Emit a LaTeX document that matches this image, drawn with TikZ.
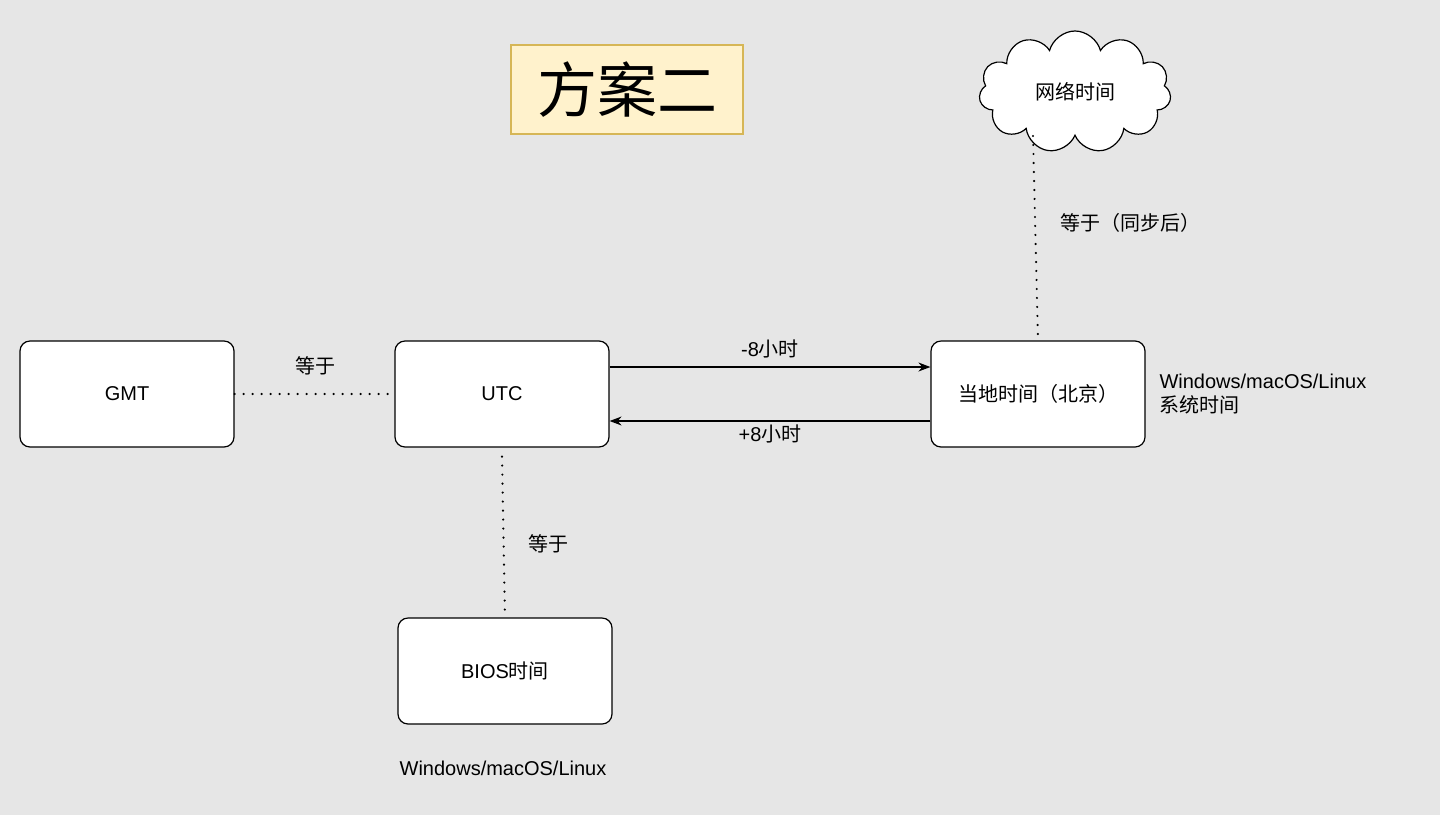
\documentclass[tikz,border=0pt]{standalone}
\usepackage{fontspec}
\setmainfont{Liberation Sans}
\newfontfamily\cjk{Noto Sans CJK SC}
\usetikzlibrary{shapes.symbols,arrows.meta}
\definecolor{bg}{HTML}{E6E6E6}
\definecolor{tfill}{HTML}{FFF2CC}
\definecolor{tline}{HTML}{D6B656}
\begin{document}
\begin{tikzpicture}[x=1pt,y=-1pt,
 box/.style={draw,fill=white,rounded corners=10pt,minimum width=214pt,minimum height=106pt,line width=1.2pt,font=\fontsize{20}{24}\selectfont},
 lbl/.style={font=\fontsize{20}{24}\selectfont},
 dot/.style={line width=2.4pt,dash pattern=on 0pt off 9pt,line cap=round},
 arr/.style={line width=1.2pt,-{Stealth[length=12pt,width=9pt]}}]
\fill[bg] (0,0) rectangle (1440,815);
\useasboundingbox (0,0) rectangle (1440,815);
\node[draw=tline,fill=tfill,line width=1.2pt,minimum width=232pt,minimum height=89pt,font=\cjk\fontsize{60}{70}\selectfont] (title) at (627,89.5) {方案二};
\node[cloud,draw,fill=white,line width=1.2pt,cloud puffs=11,aspect=1.6,minimum width=192pt,minimum height=122pt,font=\cjk\fontsize{20}{24}\selectfont] (net) at (1075,92) {网络时间};
\node[box] (gmt) at (127,394) {GMT};
\node[box] (utc) at (502,394) {UTC};
\node[box] (loc) at (1038,394) {{\cjk 当地时间（北京）}};
\node[box] (bios) at (505,671) {BIOS{\cjk 时间}};
\draw[dot] (gmt.east) -- (utc.west);
\draw[dot] ([yshift=-9pt]utc.south) -- (bios.north);
\draw[dot] (1033,136) -- (loc.north);
\draw[arr] ([yshift=-27pt]loc.west) -- ([yshift=-27pt]utc.east);
\draw[arr] ([yshift=27pt]utc.east) -- ([yshift=27pt]loc.west);
\node[lbl] (l1) at (315,366) {{\cjk 等于}};
\node[lbl] (l2) at (548,544) {{\cjk 等于}};
\node[lbl] (l3) at (1130,223) {{\cjk 等于（同步后）}};
\node[lbl] (l4) at (770,349) {-8{\cjk 小时}};
\node[lbl] (l5) at (770,434) {+8{\cjk 小时}};
\node[lbl,anchor=west,align=left] (l6) at (1156,394) {Windows/macOS/Linux\\{\cjk 系统时间}};
\node[lbl] (l7) at (503,768) {Windows/macOS/Linux};
\end{tikzpicture}
\end{document}
